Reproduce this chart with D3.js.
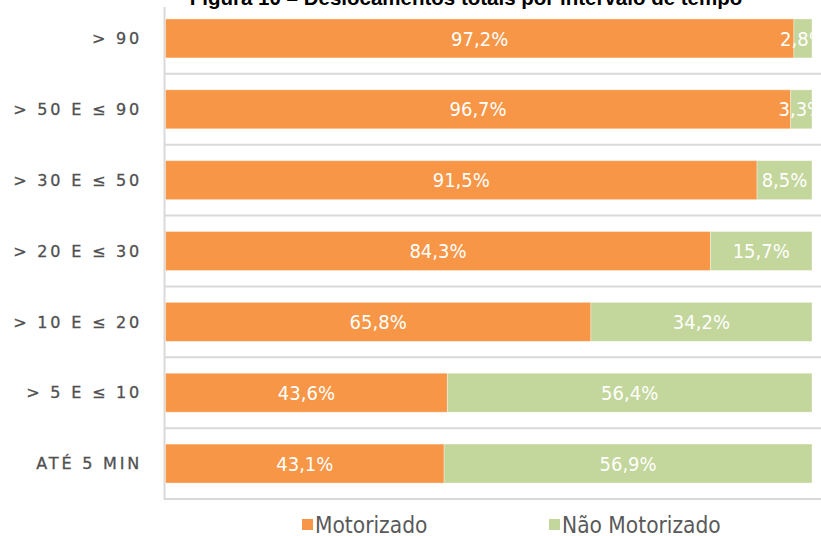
<!DOCTYPE html>
<html>
<head>
<meta charset="utf-8">
<script src="https://cdn.jsdelivr.net/npm/d3@7"></script>
<style>
  html, body { margin: 0; padding: 0; background: #fff; }
  svg { display: block; }
</style>
</head>
<body>
<svg id="chart" width="821" height="536"></svg>
<script>
const title = "Figura 10 – Deslocamentos totais por intervalo de tempo";
const categories = ["> 90", "> 50 E ≤ 90", "> 30 E ≤ 50", "> 20 E ≤ 30", "> 10 E ≤ 20", "> 5 E ≤ 10", "ATÉ 5 MIN"];
const seriesNames = ["Motorizado", "Não Motorizado"];
const motorizado = [97.2, 96.7, 91.5, 84.3, 65.8, 43.6, 43.1];
const naoMotorizado = [2.8, 3.3, 8.5, 15.7, 34.2, 56.4, 56.9];
const colors = ["#F79646", "#C3D69B"];

const svg = d3.select("#chart");
const W = 821, H = 536;
const plot = { left: 165.5, right: 812, top: 3, bottom: 499 };

const x = d3.scaleLinear().domain([0, 100]).range([plot.left, plot.right]);
const y = d3.scaleBand().domain(categories).range([plot.top, plot.bottom])
  .paddingInner(0.45).paddingOuter(0.225);

const fmt = v => d3.format(".1f")(v).replace(".", ",") + "%";

// clip
svg.append("defs").append("clipPath").attr("id", "plotclip")
  .append("rect").attr("x", plot.left).attr("y", 0)
  .attr("width", plot.right - plot.left).attr("height", H);

// gridlines at category boundaries
const step = y.step();
const grid = svg.append("g");
categories.forEach(c => {
  const yb = y(c) + y.bandwidth() + step * y.paddingInner() / 2;
  grid.append("line")
    .attr("x1", plot.left - 1).attr("x2", W)
    .attr("y1", yb).attr("y2", yb)
    .attr("stroke", "#d9d9d9").attr("stroke-width", 2);
});

// vertical axis line
svg.append("line")
  .attr("x1", plot.left - 1).attr("x2", plot.left - 1)
  .attr("y1", 7).attr("y2", plot.bottom + 1)
  .attr("stroke", "#d9d9d9").attr("stroke-width", 2);

// stacked data
const rows = categories.map((c, i) => ({ cat: c, Motorizado: motorizado[i], "Não Motorizado": naoMotorizado[i] }));
const stack = d3.stack().keys(seriesNames)(rows);

const barsG = svg.append("g");
stack.forEach((layer, si) => {
  barsG.selectAll(null).data(layer).enter().append("rect")
    .attr("x", d => x(d[0]))
    .attr("width", d => x(d[1]) - x(d[0]))
    .attr("y", d => y(d.data.cat))
    .attr("height", y.bandwidth())
    .attr("fill", colors[si])
    .attr("stroke", "#ffffff").attr("stroke-opacity", 0.35).attr("stroke-width", 1);
});

const labelsG = svg.append("g").attr("clip-path", "url(#plotclip)");
stack.forEach((layer, si) => {
  labelsG.selectAll(null).data(layer).enter().append("text")
    .attr("x", d => (x(d[0]) + x(d[1])) / 2)
    .attr("y", d => y(d.data.cat) + y.bandwidth() / 2)
    .attr("dy", "0.36em")
    .attr("text-anchor", "middle")
    .attr("font-family", "'DejaVu Sans Condensed', 'Liberation Sans Narrow', 'DejaVu Sans', sans-serif")
    .attr("font-stretch", "condensed")
    .attr("font-size", 20)
    .attr("fill", "#ffffff")
    .text(d => fmt(d[1] - d[0]));
});

// category labels
svg.append("g").selectAll("text").data(categories).enter().append("text")
  .attr("x", 142)
  .attr("y", d => y(d) + y.bandwidth() / 2)
  .attr("dy", "0.36em")
  .attr("text-anchor", "end")
  .attr("font-family", "'DejaVu Sans', sans-serif")
  .attr("font-size", 16)
  .attr("letter-spacing", "2.8px")
  .attr("fill", "#505050")
  .attr("stroke", "#505050").attr("stroke-width", 0.3)
  .text(d => d);

// title (partially cut off at top)
svg.append("text")
  .attr("x", 466).attr("y", 5)
  .attr("text-anchor", "middle")
  .attr("font-family", "'Liberation Sans', Arial, sans-serif")
  .attr("font-weight", "bold")
  .attr("font-size", 20.5)
  .attr("fill", "#000")
  .text(title);

// legend
const legendX = [302, 549];
const lg = svg.append("g");
seriesNames.forEach((s, i) => {
  lg.append("rect").attr("x", legendX[i]).attr("y", 519).attr("width", 11).attr("height", 11)
    .attr("fill", colors[i]);
  lg.append("text").attr("x", legendX[i] + 13).attr("y", 525).attr("dy", "0.36em")
    .attr("font-family", "'DejaVu Sans Condensed', 'Liberation Sans Narrow', 'DejaVu Sans', sans-serif")
    .attr("font-stretch", "condensed")
    .attr("font-size", 22.5)
    .attr("fill", "#595959")
    .text(s);
});
</script>
</body>
</html>
